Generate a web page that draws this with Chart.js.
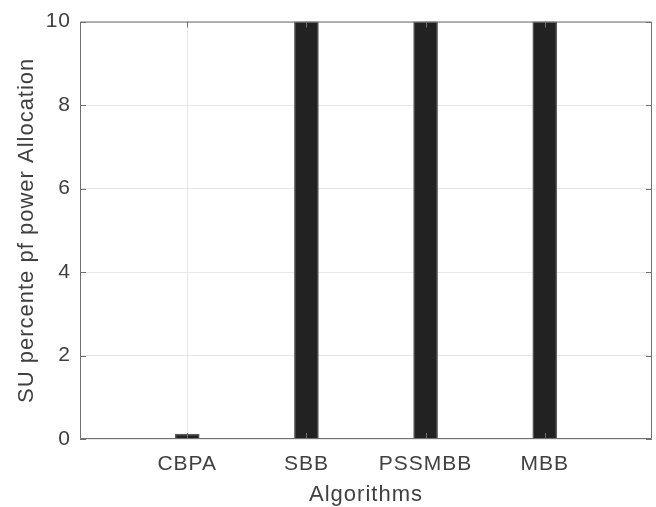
<!DOCTYPE html>
<html>
<head>
<meta charset="utf-8">
<script src="https://cdn.jsdelivr.net/npm/chart.js@4"></script>
<style>
  html, body { margin: 0; padding: 0; background: #fff; }
  #wrap { width: 656px; height: 507px; }
</style>
</head>
<body>
<div id="wrap"><canvas id="chart"></canvas></div>
<script>
// data
const categories = ['CBPA', 'SBB', 'PSSMBB', 'MBB'];
const positions = [1, 2, 3, 4];
const allocation = [0.12, 10, 10, 10];
const yTicks = [0, 2, 4, 6, 8, 10];

const textColor = '#404040';
const axisColor = '#707070';
const gridColor = '#e8e8e8';
const fontFamily = '"Liberation Sans", Arial, Helvetica, sans-serif';

// the figure's text is a bit wider than Arial, widen it a little
const wideText = {
  id: 'wideText',
  beforeLayout(chart) { chart.ctx.letterSpacing = '1px'; },
  beforeDraw(chart) { chart.ctx.letterSpacing = '1px'; }
};

// MATLAB-style box with inward tick marks
const boxTicks = {
  id: 'boxTicks',
  afterDatasetsDraw(chart) {
    const { ctx, chartArea: a, scales: { x, y } } = chart;
    const len = 6;
    ctx.save();
    ctx.strokeStyle = axisColor;
    ctx.lineWidth = 1;
    ctx.beginPath();
    ctx.rect(a.left + 0.5, a.top + 0.5, a.right - a.left - 1, a.bottom - a.top - 1);
    positions.forEach(v => {
      const px = Math.round(x.getPixelForValue(v)) + 0.5;
      ctx.moveTo(px, a.bottom); ctx.lineTo(px, a.bottom - len);
      ctx.moveTo(px, a.top); ctx.lineTo(px, a.top + len);
    });
    yTicks.forEach(v => {
      const py = Math.round(y.getPixelForValue(v)) + 0.5;
      ctx.moveTo(a.left, py); ctx.lineTo(a.left + len, py);
      ctx.moveTo(a.right, py); ctx.lineTo(a.right - len, py);
    });
    ctx.stroke();
    ctx.restore();
  }
};

const ctx = document.getElementById('chart').getContext('2d');
new Chart(ctx, {
  type: 'bar',
  data: {
    datasets: [{
      data: positions.map((p, i) => ({ x: p, y: allocation[i] })),
      backgroundColor: '#222222',
      borderColor: '#5a5a5a',
      borderWidth: 1.5,
      barThickness: 24
    }]
  },
  options: {
    responsive: true,
    maintainAspectRatio: false,
    animation: false,
    layout: { padding: { top: 16, right: 4, left: 0, bottom: 0 } },
    plugins: {
      legend: { display: false },
      tooltip: { enabled: false }
    },
    scales: {
      x: {
        type: 'linear',
        min: 0.1,
        max: 4.9,
        offset: false,
        afterBuildTicks: scale => { scale.ticks = positions.map(v => ({ value: v })); },
        afterFit: scale => { scale.height = 68; },
        grid: { color: gridColor, drawTicks: false, offset: false },
        border: { display: false },
        ticks: {
          padding: 13,
          color: textColor,
          font: { family: fontFamily, size: 21 },
          maxRotation: 0,
          callback: v => categories[positions.indexOf(v)]
        },
        title: {
          display: true,
          text: 'Algorithms',
          color: textColor,
          font: { family: fontFamily, size: 22 },
          padding: { top: 0, bottom: -1 }
        }
      },
      y: {
        min: 0,
        max: 10,
        afterBuildTicks: scale => { scale.ticks = yTicks.map(v => ({ value: v })); },
        afterFit: scale => { scale.width = 80; },
        grid: { color: gridColor, drawTicks: false },
        border: { display: false },
        ticks: {
          padding: 9,
          color: textColor,
          font: { family: fontFamily, size: 21 }
        },
        title: {
          display: true,
          text: 'SU percente pf power Allocation',
          color: textColor,
          font: { family: fontFamily, size: 22 },
          padding: { top: 14, bottom: 0 }
        }
      }
    }
  },
  plugins: [wideText, boxTicks]
});
</script>
</body>
</html>
